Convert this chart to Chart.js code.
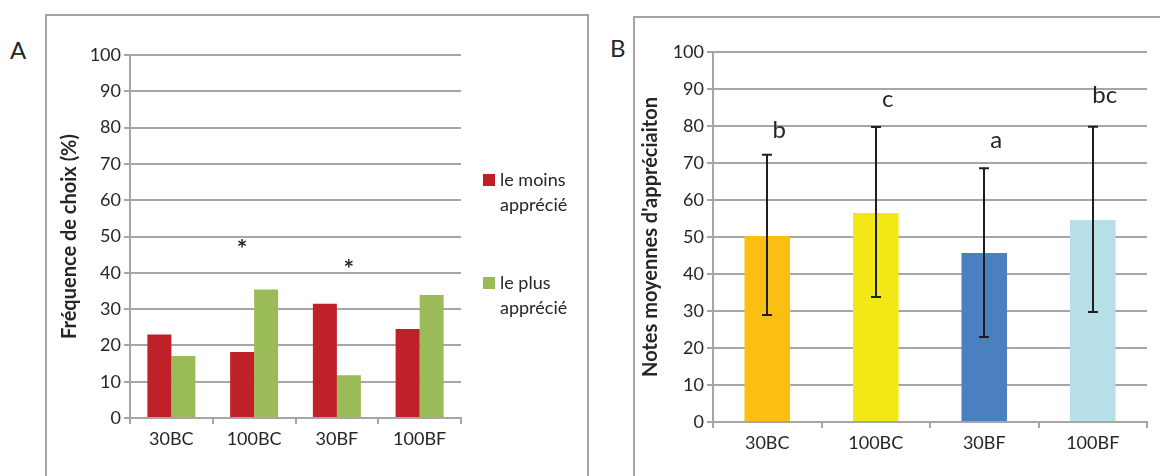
<!DOCTYPE html>
<html><head><meta charset="utf-8">
<script src="https://cdn.jsdelivr.net/npm/chart.js@4/dist/chart.umd.min.js"></script>
<style>
html,body{margin:0;padding:0;background:#fff;width:1160px;height:476px;overflow:hidden;font-family:Lato,sans-serif;}
.box{position:absolute;border:2px solid #a3a3a3;border-bottom:none;box-sizing:border-box;}
#boxA{left:45px;top:14px;width:544px;height:480px;}
#boxB{left:633px;top:16px;width:540px;height:480px;border-right:none;}
.lbl{position:absolute;font-size:24px;color:#262626;line-height:1;font-family:Lato,sans-serif;}
#wrapA{position:absolute;left:0;top:0;width:590px;height:476px;}
#wrapB{position:absolute;left:590px;top:0;width:570px;height:476px;}
</style></head>
<body>
<div class="box" id="boxA"></div>
<div class="box" id="boxB"></div>
<div class="lbl" style="left:10px;top:38px;">A</div>
<div class="lbl" style="left:610px;top:36px;">B</div>
<div id="wrapA"><canvas id="chartA"></canvas></div>
<div id="wrapB"><canvas id="chartB"></canvas></div>
<script>
// ---- data ----
const categories = ['30BC', '100BC', '30BF', '100BF'];
const leastLiked = [23.0, 18.2, 31.5, 24.5];
const mostLiked = [17.1, 35.4, 11.8, 33.9];
const seriesNamesA = [['le moins', 'apprécié'], ['le plus', 'apprécié']];
const sigCategories = ['100BC', '30BF'];
const sigSeries = [0, 1];
const sigLevels = [48, 42.5];
const meanScores = [50.3, 56.5, 45.7, 54.6];
const errLow = [28.9, 33.8, 23.0, 29.7];
const errHigh = [72.2, 79.7, 68.6, 79.8];
const groupLetters = ['b', 'c', 'a', 'bc'];
const letterLevels = [76.8, 85.1, 74.1, 86.2];
const yTitleA = 'Fréquence de choix (%)';
const yTitleB = "Notes moyennes d'appréciaiton";

// ---- styles ----
const gridColor = '#a6a6a6';
const textColor = '#262626';
const FONT = 'Lato';
const colorsA = ['#c0202a', '#9bbb59'];
const colorsB = ['#fbbf14', '#f2e816', '#4a80bf', '#b7dfe8'];

function axisCommon(extraY) {
  return {
    x: {
      grid: {display: true, drawOnChartArea: false, drawTicks: true, tickLength: 6, color: gridColor, lineWidth: 2, offset: true},
      border: {color: gridColor, width: 2},
      ticks: {color: textColor, font: {family: FONT, size: 18}, padding: 4}
    },
    y: Object.assign({
      min: 0, max: 100,
      ticks: {stepSize: 10, color: textColor, font: {family: FONT, size: 18}, padding: 3},
      grid: {color: gridColor, lineWidth: 2, tickLength: 6},
      border: {color: gridColor, width: 2}
    }, extraY)
  };
}

// legend for panel A
const legendA = {
  id: 'legendA',
  afterDraw(chart) {
    const ctx = chart.ctx;
    const tops = [180, 283];
    ctx.save();
    chart.data.datasets.forEach((ds, i) => {
      const y = tops[i];
      ctx.fillStyle = ds.backgroundColor;
      ctx.fillRect(483, y - 6, 12, 12);
      ctx.fillStyle = textColor;
      ctx.font = '18px ' + FONT;
      ctx.textBaseline = 'middle';
      ctx.textAlign = 'left';
      seriesNamesA[i].forEach((t, k) => ctx.fillText(t, 500, y + k * 25));
    });
    ctx.restore();
  }
};

// significance stars for panel A
const starsA = {
  id: 'starsA',
  afterDatasetsDraw(chart) {
    const ctx = chart.ctx;
    const ys = chart.scales.y;
    ctx.save();
    ctx.fillStyle = textColor;
    ctx.font = 'bold 25px ' + FONT;
    ctx.textAlign = 'center';
    ctx.textBaseline = 'middle';
    sigCategories.forEach((c, k) => {
      const idx = categories.indexOf(c);
      const bar = chart.getDatasetMeta(sigSeries[k]).data[idx];
      ctx.fillText('*', bar.x, ys.getPixelForValue(sigLevels[k]) + 6);
    });
    ctx.restore();
  }
};

// error bars and letters for panel B
const errorB = {
  id: 'errorB',
  afterDatasetsDraw(chart) {
    const ctx = chart.ctx;
    const ys = chart.scales.y;
    const meta = chart.getDatasetMeta(0);
    ctx.save();
    ctx.strokeStyle = '#1f1f1f';
    ctx.lineWidth = 2;
    meta.data.forEach((bar, i) => {
      const x = Math.round(bar.x);
      const yH = ys.getPixelForValue(errHigh[i]);
      const yL = ys.getPixelForValue(errLow[i]);
      ctx.beginPath();
      ctx.moveTo(x, yH); ctx.lineTo(x, yL);
      ctx.moveTo(x - 5, yH); ctx.lineTo(x + 5, yH);
      ctx.moveTo(x - 5, yL); ctx.lineTo(x + 5, yL);
      ctx.stroke();
    });
    ctx.fillStyle = textColor;
    ctx.font = '24px ' + FONT;
    ctx.textAlign = 'center';
    ctx.textBaseline = 'alphabetic';
    meta.data.forEach((bar, i) => {
      ctx.fillText(groupLetters[i], bar.x + 12, ys.getPixelForValue(letterLevels[i]));
    });
    ctx.restore();
  }
};

const scalesA = axisCommon({
  title: {display: true, text: yTitleA, color: textColor, font: {family: FONT, size: 20, weight: 'bold'}, padding: {top: 58, bottom: 0}},
  afterFit: s => { s.width = 130; }
});
scalesA.x.afterFit = s => { s.height = 58; };

new Chart(document.getElementById('chartA'), {
  type: 'bar',
  data: {
    labels: categories,
    datasets: [
      {label: seriesNamesA[0].join(' '), data: leastLiked, backgroundColor: colorsA[0], categoryPercentage: 0.58, barPercentage: 1},
      {label: seriesNamesA[1].join(' '), data: mostLiked, backgroundColor: colorsA[1], categoryPercentage: 0.58, barPercentage: 1}
    ]
  },
  options: {
    responsive: true, maintainAspectRatio: false, animation: false,
    layout: {padding: {left: 0, top: 55, right: 129, bottom: 0}},
    plugins: {legend: {display: false}, tooltip: {enabled: false}},
    scales: scalesA
  },
  plugins: [legendA, starsA]
});

const scalesB = axisCommon({
  title: {display: true, text: yTitleB, color: textColor, font: {family: FONT, size: 20, weight: 'bold'}, padding: {top: 49, bottom: 0}},
  afterFit: s => { s.width = 123; }
});
scalesB.x.afterFit = s => { s.height = 54; };

new Chart(document.getElementById('chartB'), {
  type: 'bar',
  data: {
    labels: categories,
    datasets: [
      {label: 'Notes', data: meanScores, backgroundColor: colorsB, categoryPercentage: 1, barPercentage: 0.42}
    ]
  },
  options: {
    responsive: true, maintainAspectRatio: false, animation: false,
    layout: {padding: {left: 0, top: 52, right: 13, bottom: 0}},
    plugins: {legend: {display: false}, tooltip: {enabled: false}},
    scales: scalesB
  },
  plugins: [errorB]
});
</script>
</body></html>
